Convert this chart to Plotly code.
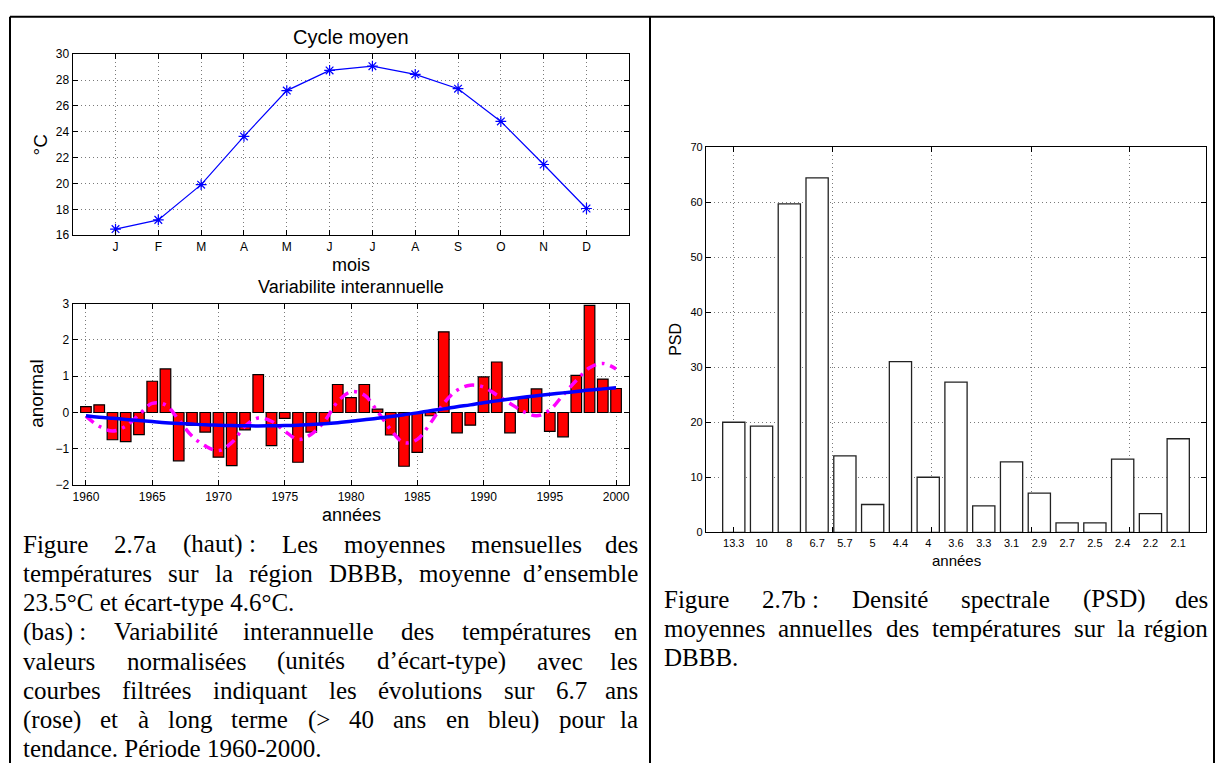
import plotly.graph_objects as go

W, H = 1224, 770

# ---------------- data ----------------
months = ["J", "F", "M", "A", "M", "J", "J", "A", "S", "O", "N", "D"]
month_temp = [16.48, 17.19, 19.91, 23.64, 27.18, 28.74, 29.07, 28.44, 27.33, 24.80, 21.47, 18.07]

years = list(range(1960, 2001))
anomaly = [0.16, 0.21, -0.75, -0.80, -0.61, 0.86, 1.20, -1.33, -0.35, -0.54,
           -1.23, -1.46, -0.48, 1.04, -0.91, -0.16, -1.37, -0.54, -0.30, 0.77,
           0.41, 0.77, 0.09, -0.62, -1.48, -1.10, -0.09, 2.22, -0.56, -0.35,
           0.98, 1.39, -0.56, 0.40, 0.65, -0.52, -0.67, 1.02, 2.95, 0.92, 0.66]
trend_long = [-0.09, -0.13, -0.16, -0.19, -0.22, -0.25, -0.28, -0.30, -0.32, -0.34,
              -0.35, -0.36, -0.365, -0.37, -0.365, -0.36, -0.35, -0.33, -0.31, -0.28,
              -0.24, -0.20, -0.16, -0.11, -0.06, -0.01, 0.05, 0.10, 0.16, 0.21,
              0.27, 0.32, 0.37, 0.42, 0.46, 0.50, 0.54, 0.58, 0.62, 0.65, 0.68]
filt_67 = [-0.10, -0.38, -0.51, -0.38, -0.06, 0.25, 0.21, -0.20, -0.65, -0.92,
           -1.05, -0.83, -0.38, -0.15, -0.24, -0.51, -0.74, -0.60, -0.24, 0.30,
           0.57, 0.48, 0.03, -0.47, -0.83, -0.74, -0.29, 0.25, 0.61, 0.75,
           0.70, 0.48, 0.25, 0.03, -0.09, 0.07, 0.48, 0.88, 1.23, 1.35, 1.20]

psd_periods = ["13.3", "10", "8", "6.7", "5.7", "5", "4.4", "4", "3.6", "3.3",
               "3.1", "2.9", "2.7", "2.5", "2.4", "2.2", "2.1"]
psd_values = [20.0, 19.3, 59.7, 64.4, 13.9, 5.05, 31.0, 10.0, 27.3, 4.8,
              12.8, 7.1, 1.7, 1.7, 13.3, 3.4, 17.0]

caption_left = [
    ("Figure 2.7a (haut)\u00a0: Les moyennes mensuelles des", True),
    ("températures sur la région DBBB, moyenne d\u2019ensemble", True),
    ("23.5°C et écart-type 4.6°C.", False),
    ("(bas)\u00a0: Variabilité interannuelle des températures en", True),
    ("valeurs normalisées (unités d\u2019écart-type) avec les", True),
    ("courbes filtrées indiquant les évolutions sur 6.7 ans", True),
    ("(rose) et à long terme (> 40 ans en bleu) pour la", True),
    ("tendance. Période 1960-2000.", False),
]
caption_right = [
    ("Figure 2.7b\u00a0: Densité spectrale (PSD) des", True),
    ("moyennes annuelles des températures sur la région", True),
    ("DBBB.", False),
]

# ---------------- helpers ----------------
def px_x(x):
    return x / W

def px_y(y):
    return 1 - y / H

SANS = "Liberation Sans, Arial, sans-serif"
SERIF = "Liberation Serif, Times New Roman, serif"

TIMES_W = {
    ' ': 250, '\u00a0': 250, '(': 333, ')': 333, '-': 333, '.': 250, ',': 250, ':': 278,
    '>': 564, '°': 400, '\u2019': 333,
    'A': 722, 'B': 667, 'C': 667, 'D': 722, 'F': 556, 'L': 611, 'P': 556, 'S': 556,
    'a': 444, 'b': 500, 'c': 444, 'd': 500, 'e': 444, 'f': 333, 'g': 500, 'h': 500,
    'i': 278, 'j': 278, 'k': 500, 'l': 278, 'm': 778, 'n': 500, 'o': 500, 'p': 500,
    'q': 500, 'r': 333, 's': 389, 't': 278, 'u': 500, 'v': 500, 'w': 722, 'x': 500,
    'y': 500, 'z': 444, 'é': 444, 'à': 444, 'è': 444,
}
for d in "0123456789":
    TIMES_W[d] = 500


def tw(s, size):
    return sum(TIMES_W.get(c, 500) for c in s) / 1000.0 * size


fig = go.Figure()

# ---------------- top chart ----------------
fig.add_trace(go.Scatter(
    x=list(range(1, 13)), y=month_temp, mode="lines+markers",
    line=dict(color="#0000FF", width=1.2),
    marker=dict(symbol="asterisk-open", size=9, color="#0000FF",
                line=dict(color="#0000FF", width=1.2)),
    xaxis="x", yaxis="y", showlegend=False, hoverinfo="skip"))

# ---------------- bottom-left chart ----------------
fig.add_trace(go.Bar(
    x=years, y=anomaly, width=0.8,
    marker=dict(color="#FF0000", line=dict(color="black", width=1.2)),
    xaxis="x2", yaxis="y2", showlegend=False, hoverinfo="skip"))
fig.add_trace(go.Scatter(
    x=years, y=filt_67, mode="lines",
    line=dict(color="#FF00FF", width=3.5, dash="10px,6px,3px,6px", shape="spline"),
    xaxis="x2", yaxis="y2", showlegend=False, hoverinfo="skip"))
fig.add_trace(go.Scatter(
    x=years, y=trend_long, mode="lines",
    line=dict(color="#0000FF", width=3.5, shape="spline"),
    xaxis="x2", yaxis="y2", showlegend=False, hoverinfo="skip"))

# ---------------- PSD chart ----------------
fig.add_trace(go.Bar(
    x=list(range(1, len(psd_values) + 1)), y=psd_values, width=0.8,
    marker=dict(color="white", line=dict(color="#222222", width=1.3)),
    xaxis="x3", yaxis="y3", showlegend=False, hoverinfo="skip"))

axis_common = dict(
    showline=True, linecolor="black", linewidth=1.3, mirror="ticks",
    ticks="inside", ticklen=5, tickwidth=1, tickcolor="black",
    showgrid=True, gridcolor="#7a7a7a", griddash="1px,3px", gridwidth=1,
    zeroline=False, tickfont=dict(family=SANS, size=12, color="black"),
    fixedrange=True,
)

fig.update_layout(
    xaxis=dict(axis_common, domain=[px_x(72.7), px_x(629.3)], range=[0, 13],
               tickvals=list(range(1, 13)), ticktext=months, anchor="y"),
    yaxis=dict(axis_common, domain=[px_y(232.5), px_y(48)], range=[16, 30],
               dtick=2, tick0=16, anchor="x"),
    xaxis2=dict(axis_common, domain=[px_x(72.7), px_x(629.3)], range=[1959, 2001],
                tickvals=list(range(1960, 2001, 5)), anchor="y2"),
    yaxis2=dict(axis_common, domain=[px_y(487), px_y(302)], range=[-2, 3],
                dtick=1, tick0=-2, anchor="x2"),
    xaxis3=dict(axis_common, domain=[px_x(706), px_x(1206)], range=[0, 18],
                tickvals=list(range(1, len(psd_periods) + 1)), ticktext=psd_periods,
                ticks="", showgrid=False, anchor="y3",
                tickfont=dict(family=SANS, size=11, color="black")),
    xaxis4=dict(axis_common, overlaying="x3", range=[0, 18], anchor="y3",
                tickvals=[1, 4.57, 8.13, 11.7, 15.26], showticklabels=False,
                domain=[px_x(706), px_x(1206)]),
    yaxis3=dict(axis_common, domain=[px_y(535), px_y(142.7)], range=[0, 70],
                dtick=10, anchor="x3",
                tickfont=dict(family=SANS, size=11, color="black")),
)

fig.add_trace(go.Scatter(x=[0], y=[0], xaxis="x4", yaxis="y3", mode="markers",
                         marker=dict(opacity=0), showlegend=False, hoverinfo="skip"))

# ---------------- chart texts ----------------
def ann(text, x, y, size, family=SANS, angle=0, xanchor="center", yanchor="middle"):
    fig.add_annotation(text=text, x=px_x(x), y=px_y(y), xref="paper", yref="paper",
                       showarrow=False, xanchor=xanchor, yanchor=yanchor,
                       textangle=angle, font=dict(family=family, size=size, color="black"))

ann("Cycle moyen", 351, 31, 20)
ann("°C", 40, 141, 19, angle=-90)
ann("mois", 351, 263, 18)
ann("Variabilite interannuelle", 351, 285, 18)
ann("anormal", 37, 394, 19, angle=-90)
ann("années", 351, 517, 18)
ann("PSD", 676, 339, 16, angle=-90)
ann("années", 956, 564, 15)

# ---------------- captions ----------------
def caption(lines, x0, x1, y0, dy, size):
    for i, (line, just) in enumerate(lines):
        y = y0 + i * dy
        if not just:
            ann(line, x0, y, size, family=SERIF, xanchor="left")
            continue
        words = line.split(" ")
        widths = [tw(w, size) for w in words]
        gap = (x1 - x0 - sum(widths)) / (len(words) - 1)
        x = x0
        for j, (w, wd) in enumerate(zip(words, widths)):
            if j == len(words) - 1:
                ann(w, x1, y, size, family=SERIF, xanchor="right")
            else:
                ann(w, x, y, size, family=SERIF, xanchor="left")
            x += wd + gap

caption(caption_left, 21, 640, 547, 29.8, 25)
caption(caption_right, 662, 1210, 603, 29.8, 25)

# ---------------- frame ----------------
frame = [(10, 10, 1214, 10), (10, 10, 10, 770), (650, 10, 650, 770), (1214, 10, 1214, 770)]
for x0, y0, x1, y1 in frame:
    fig.add_shape(type="line", xref="paper", yref="paper",
                  x0=px_x(x0), y0=px_y(y0), x1=px_x(x1), y1=px_y(y1),
                  line=dict(color="black", width=2))

fig.update_layout(width=W, height=H, margin=dict(l=0, r=0, t=0, b=0),
                  paper_bgcolor="white", plot_bgcolor="white",
                  barmode="overlay", showlegend=False)

fig.write_html("out.html")
